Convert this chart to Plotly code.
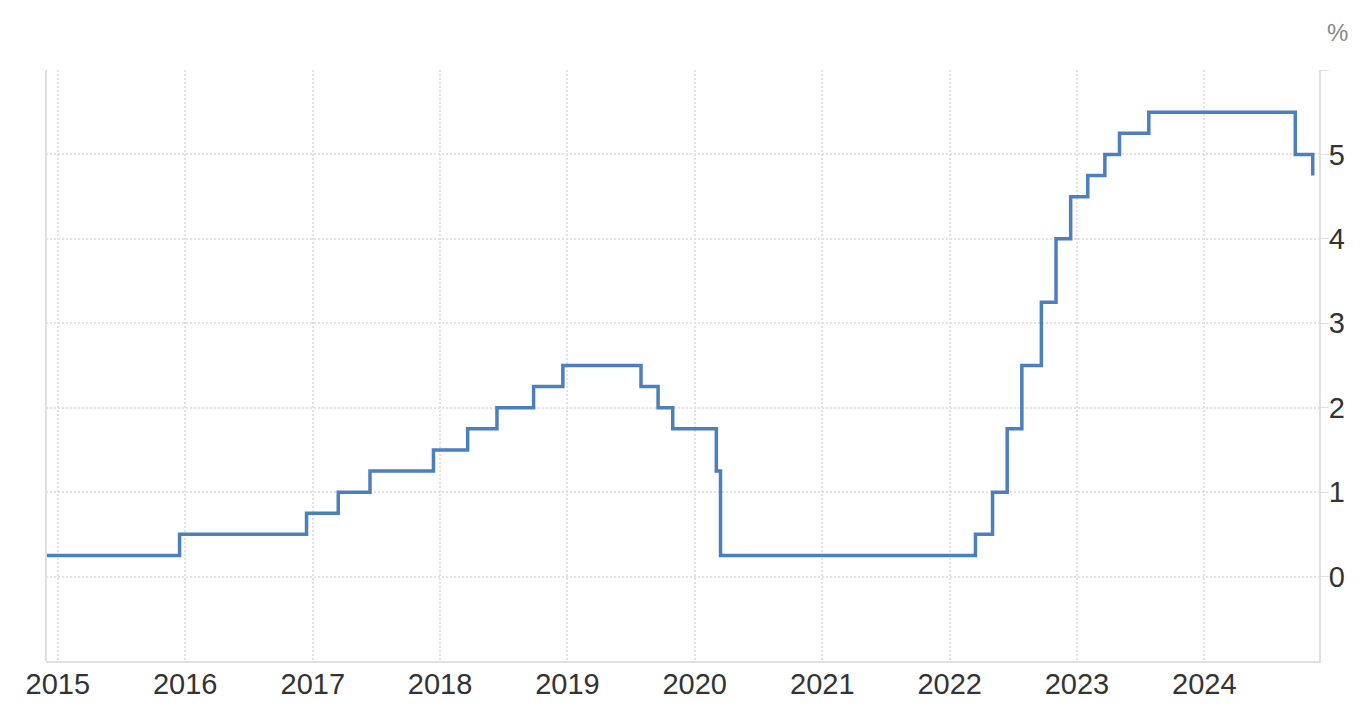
import plotly.graph_objects as go

# Fed funds target rate (upper bound), step changes
dates = [
    "2014-11-28", "2015-12-16", "2016-12-14", "2017-03-15", "2017-06-14",
    "2017-12-13", "2018-03-21", "2018-06-13", "2018-09-26", "2018-12-19",
    "2019-07-31", "2019-09-18", "2019-10-30", "2020-03-03", "2020-03-15",
    "2022-03-16", "2022-05-04", "2022-06-15", "2022-07-27", "2022-09-21",
    "2022-11-02", "2022-12-14", "2023-02-01", "2023-03-22", "2023-05-03",
    "2023-07-26", "2024-09-18", "2024-11-07",
]
rates = [
    0.25, 0.50, 0.75, 1.00, 1.25,
    1.50, 1.75, 2.00, 2.25, 2.50,
    2.25, 2.00, 1.75, 1.25, 0.25,
    0.50, 1.00, 1.75, 2.50, 3.25,
    4.00, 4.50, 4.75, 5.00, 5.25,
    5.50, 5.00, 4.75,
]
year_ticks = [f"{y}-01-01" for y in range(2015, 2025)]
year_labels = [str(y) for y in range(2015, 2025)]
y_ticks = [0, 1, 2, 3, 4, 5, 6]
y_labels = ["0", "1", "2", "3", "4", "5", ""]

fig = go.Figure()
fig.add_trace(go.Scatter(
    x=dates, y=rates, mode="lines",
    line=dict(shape="hv", color="#4b7fbd", width=3.5),
    hoverinfo="x+y", showlegend=False,
))

font_family = "Liberation Sans, Arial, Helvetica, sans-serif"
grid_col = "#e2e2e2"

fig.update_layout(
    width=1364, height=704,
    margin=dict(l=38, r=53, t=62, b=51),
    paper_bgcolor="white", plot_bgcolor="white",
    font=dict(family=font_family, color="#333333", size=29),
    xaxis=dict(
        range=["2014-11-28", "2024-11-25"],
        tickvals=year_ticks, ticktext=year_labels,
        showgrid=True, gridcolor=grid_col, griddash="2px,2px", gridwidth=2,
        showline=True, linecolor="#e0e0e0", linewidth=2,
        ticks="", zeroline=False, ticklabelstandoff=-4,
        tickfont=dict(size=29, color="#333333"),
    ),
    yaxis=dict(
        side="right", range=[-1, 6],
        tickvals=y_ticks, ticktext=y_labels,
        showgrid=True, gridcolor=grid_col, griddash="2px,2px", gridwidth=2,
        showline=True, linecolor="#e0e0e0", linewidth=2,
        ticks="outside", ticklen=8, tickcolor="#e0e0e0",
        zeroline=False, ticklabelstandoff=-6,
        tickfont=dict(size=29, color="#333333"),
    ),
    shapes=[dict(type="line", xref="paper", yref="paper", x0=0, x1=0, y0=0, y1=1,
                 line=dict(color="#e0e0e0", width=2))],
    annotations=[dict(text="%", xref="paper", yref="paper", x=1.0, y=1.0,
                      xshift=18, yshift=38, showarrow=False,
                      xanchor="center", yanchor="middle",
                      font=dict(size=24, color="#888888", family=font_family))],
)

fig.write_html("out.html")
